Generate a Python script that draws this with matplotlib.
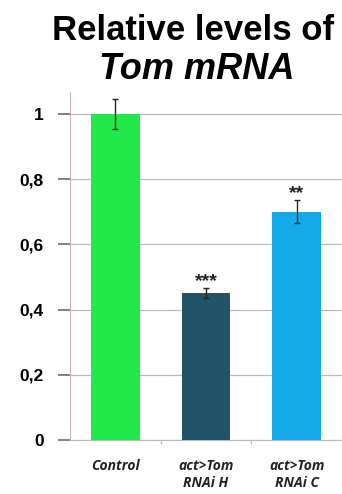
import matplotlib
matplotlib.use("Agg")
import matplotlib.pyplot as plt

categories = ["Control", "act>Tom\nRNAi H", "act>Tom\nRNAi C"]
values = [1.0, 0.45, 0.70]
errors = [0.045, 0.015, 0.035]
stars = ["", "***", "**"]
colors = ["#22E84A", "#215468", "#14AAEA"]
yticks = [0, 0.2, 0.4, 0.6, 0.8, 1.0]
ytick_labels = ["0", "0,2", "0,4", "0,6", "0,8", "1"]

W, H = 342, 494
fig = plt.figure(figsize=(W / 100, H / 100), dpi=100)
ax = fig.add_axes([70 / W, 1 - 440 / H, 272 / W, 348 / H])

x = list(range(len(categories)))
ax.bar(x, values, width=0.54, color=colors, zorder=3)
ax.errorbar(x, values, yerr=errors, fmt="none", ecolor="#222222",
            elinewidth=1.0, capsize=2.5, capthick=1.0, zorder=4)
for xi, v, e, s in zip(x, values, errors, stars):
    if s:
        ax.text(xi, v + e - 0.005, s, ha="center", va="bottom",
                fontsize=14, fontweight="bold", color="#222222",
                family="Liberation Sans")

ax.set_xlim(-0.5, 2.5)
ax.set_ylim(0, 1.067)
ax.set_yticks(yticks)
ax.set_yticklabels(ytick_labels, fontsize=12.5, fontweight="bold",
                   family="Liberation Sans")
ax.yaxis.grid(True, color="#BBBBBB", linewidth=0.9, zorder=0)
ax.set_axisbelow(True)

ax.set_xticks([0.5, 1.5, 2.5], minor=False)
ax.set_xticklabels([])
ax.tick_params(axis="x", length=3, color="#BBBBBB")
ax.tick_params(axis="y", which="major", direction="out", left=True,
               length=9, width=1.3, pad=10, color="#777777")
for xi, c in zip(x, categories):
    ax.text(xi, -0.058, c, ha="center", va="top", fontsize=10,
            fontstyle="italic", fontweight="bold", family="Open Sans",
            color="#222222", linespacing=1.3, transform=ax.transData,
            clip_on=False)

for sp in ["top", "right"]:
    ax.spines[sp].set_visible(False)
ax.spines["left"].set_color("#C8B4C8")
ax.spines["bottom"].set_color("#BBBBBB")

fig.text(193 / W, 1 - 40 / H, "Relative levels of", ha="center",
         va="baseline", fontsize=25, fontweight="bold",
         family="Liberation Sans")
fig.text(197 / W, 1 - 79 / H, "Tom mRNA", ha="center", va="baseline",
         fontsize=26, fontweight="bold", fontstyle="italic",
         family="Liberation Sans")

fig.savefig("out.png", dpi=100)
